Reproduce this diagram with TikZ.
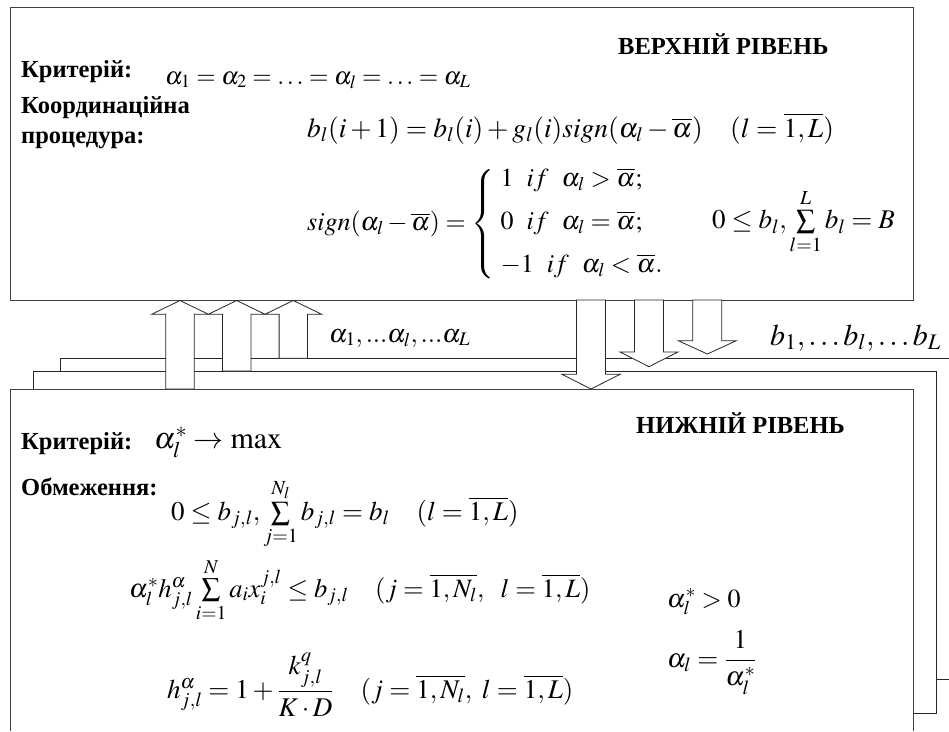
\documentclass[tikz,border=0pt]{standalone}
\usepackage{amsmath}
\usepackage{mathptmx}
\usepackage[no-math]{fontspec}
\setmainfont{Liberation Serif}
\tikzset{
  box/.style={draw=black!75, line width=0.9pt},
  wire/.style={draw=black!85, line width=0.8pt},
  blockarrow/.style={draw=black!85, fill=white, line width=0.8pt},
  lbl/.style={font=\fontsize{24.5}{27}\selectfont\bfseries, inner sep=0pt},
  eqfs/.style={font=\fontsize{#1}{#1}\selectfont, inner sep=0pt}
}
\begin{document}
\begin{tikzpicture}[x=1pt,y=-1pt]
\useasboundingbox (0,0) rectangle (949,731);
% feedback wires
\draw[wire] (913,713) -- (936.7,713) -- (936.7,371) -- (33,371) -- (33,389);
\draw[wire] (936.7,679) -- (949,679);
\draw[wire] (949,358.3) -- (60,358.3) -- (60,371);
% boxes
\node[box, anchor=north west, minimum width=903pt, minimum height=293pt, inner sep=0pt] (upper) at (10,7) {};
\coordinate (lowerNW) at (10,389);
\coordinate (lowerNE) at (913,389);
\draw[box] (10,731) -- (lowerNW) -- (lowerNE) -- (913,731);
% upward block arrows
\foreach \cx/\bot in {180/389, 236.7/371, 293.3/358.3}
  \draw[blockarrow] (\cx-14.2,\bot) -- (\cx-14.2,314.3) -- (\cx-28.4,314.3) -- (\cx,300.5)
     -- (\cx+28.4,314.3) -- (\cx+14.2,314.3) -- (\cx+14.2,\bot) -- cycle;
% downward block arrows
\foreach \cx/\hb/\tip in {591/374.3/389, 649/352/366.7, 707.3/340.7/354}
  \draw[blockarrow] (\cx-14.5,300) -- (\cx-14.5,\hb) -- (\cx-29,\hb) -- (\cx,\tip)
     -- (\cx+29,\hb) -- (\cx+14.5,\hb) -- (\cx+14.5,300) -- cycle;
% flow labels
\node[eqfs=26, anchor=base west] (alab) at (329,342) {$\alpha_1,...\alpha_l,...\alpha_L$};
\node[eqfs=30, anchor=base west] (blab) at (770,345) {$b_1,\ldots b_l,\ldots b_L$};
% upper level
\node[lbl, anchor=base west] (uptitle) at (618,54) {ВЕРХНІЙ РІВЕНЬ};
\node[lbl, anchor=base west] (crit1) at (21,77) {Критерій:};
\node[eqfs=25, anchor=base west] (crit1eq) at (165,84) {$\alpha_1=\alpha_2=\ldots=\alpha_l=\ldots=\alpha_L$};
\node[lbl, anchor=base west] (coordA) at (21,113) {Координаційна};
\node[lbl, anchor=base west] (coordB) at (21,143) {процедура:};
\node[eqfs=27.5, anchor=base west] (coordeq) at (307,137) {$b_l(i+1)=b_l(i)+g_l(i)sign(\alpha_l-\overline{\alpha})\quad(l=\overline{1,L})$};
\node[eqfs=26, anchor=west] (signeq) at (307,224) {$sign(\alpha_l-\overline{\alpha})=\left\{\begin{array}{@{\;}l@{}}
1\ \ if\ \ \alpha_l>\overline{\alpha};\\[17pt]
0\ \ if\ \ \alpha_l=\overline{\alpha};\\[17pt]
-1\ \ if\ \ \alpha_l<\overline{\alpha}.
\end{array}\right.$};
\node[eqfs=27, anchor=west] (bsum) at (712,222) {$0\le b_l,\sum\limits_{l=1}^{L}b_l=B$};
% lower level
\node[lbl, anchor=base west] (lotitle) at (636,433) {НИЖНІЙ РІВЕНЬ};
\node[lbl, anchor=base west] (crit2) at (21,449) {Критерій:};
\node[eqfs=30, anchor=base west] (crit2eq) at (154,448) {$\alpha_l^{*}\to\max$};
\node[lbl, anchor=base west] (constr) at (21,495) {Обмеження:};
\node[eqfs=27, anchor=base west] (c1) at (171,520) {$0\le b_{j,l},\sum\limits_{j=1}^{N_l}b_{j,l}=b_l\quad(l=\overline{1,L})$};
\node[eqfs=26.5, anchor=base west] (c2) at (129,597) {$\alpha_l^{*}h_{j,l}^{\alpha}\sum\limits_{i=1}^{N}a_ix_i^{j,l}\le b_{j,l}\quad(j=\overline{1,N_l},\ \ l=\overline{1,L})$};
\node[eqfs=27, anchor=base west] (c3) at (167,698) {$h_{j,l}^{\alpha}=1+\dfrac{k_{j,l}^{q}}{K\cdot D}\quad(j=\overline{1,N_l},\ l=\overline{1,L})$};
\node[eqfs=26, anchor=base west] (pos) at (667,607) {$\alpha_l^{*}>0$};
\node[eqfs=27, anchor=base west] (inv) at (667,667) {$\alpha_l=\dfrac{1}{\alpha_l^{*}}$};
\end{tikzpicture}
\end{document}
